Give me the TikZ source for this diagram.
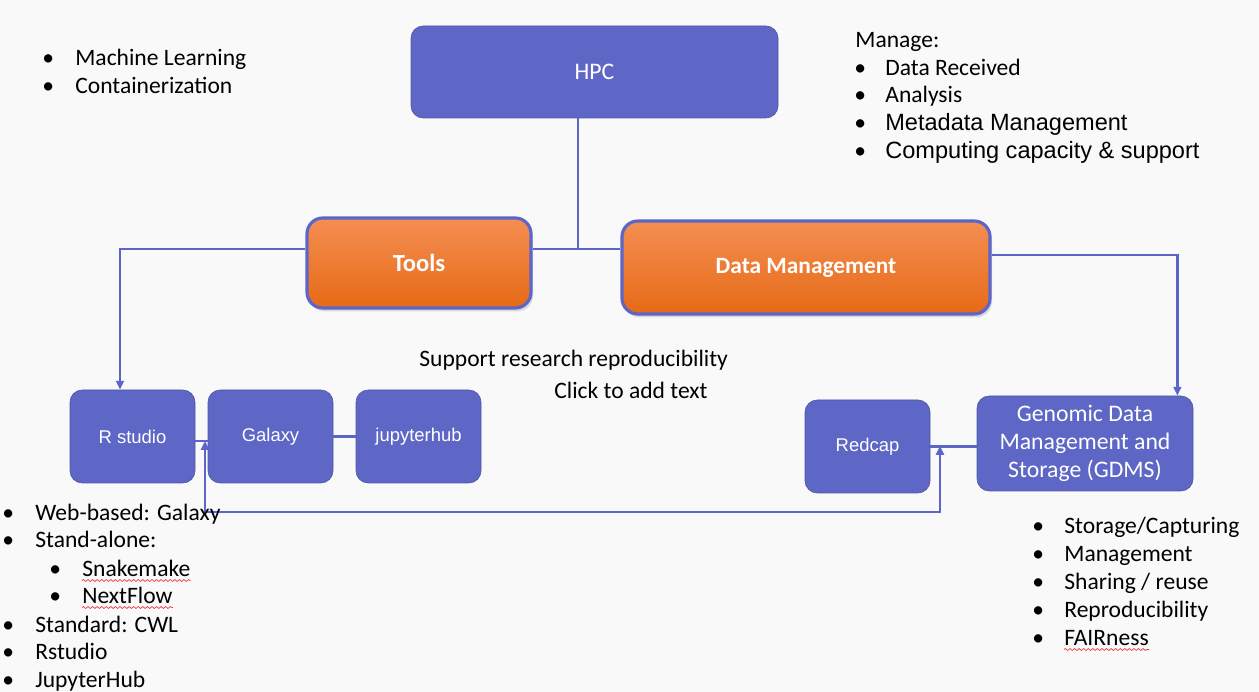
\documentclass[tikz,border=0pt]{standalone}
\usepackage{fontspec}
\setmainfont{Carlito}
\newfontfamily\arialfont{Liberation Sans}
\usetikzlibrary{arrows.meta,calc,shadows,positioning,decorations.pathmorphing}
\definecolor{boxblue}{RGB}{95,103,198}
\definecolor{lineblue}{RGB}{92,102,200}
\definecolor{orgtop}{RGB}{244,142,82}
\definecolor{orgmid}{RGB}{250,122,22}
\definecolor{orgbot}{RGB}{230,106,22}
\definecolor{bgcol}{RGB}{249,249,249}
\definecolor{spellred}{RGB}{235,60,60}

\begin{document}
\begin{tikzpicture}[>={Triangle[width=4.5pt,length=5pt]}]
   \tikzset{
    blubox/.style={rectangle,rounded corners=7pt,fill=boxblue,draw=boxblue!85!black,thin,
                   text=white,minimum width=2.5cm,minimum height=1.86cm,font=\arialfont\fontsize{10.5}{12}\selectfont},
    orgbox/.style={rectangle,rounded corners=9pt,top color=orgtop,middle color=orgmid,bottom color=orgbot,
                   draw=lineblue,line width=1.8pt,text=white,font=\fontsize{14}{16}\selectfont\bfseries,
                   drop shadow={opacity=0.25,shadow xshift=0.04,shadow yshift=-0.07}},
    link/.style={draw=lineblue,line width=1.5pt},
    item/.style={anchor=base west,inner sep=0pt,font=\fontsize{13.4}{16}\selectfont},
    bigitem/.style={anchor=base west,inner sep=0pt,font=\arialfont\fontsize{13.4}{16}\selectfont},
    bul/.style={anchor=base west,inner sep=0pt,font=\fontsize{13.4}{16}\selectfont},
    squiggle/.style={draw=spellred,line width=0.4pt,decorate,decoration={snake,amplitude=0.55pt,segment length=2.6pt}}
   }
   % background
   \fill[bgcol] (0,0) rectangle (25.18,-13.84);
   \useasboundingbox (0,0) rectangle (25.18,-13.84);

   % boxes
   \node[blubox,minimum width=7.34cm,minimum height=1.84cm,font=\fontsize{13.5}{15}\selectfont] (hpc) at (11.89,-1.44) {HPC};
   \node[orgbox,minimum width=4.48cm,minimum height=1.80cm] (tools) at (8.38,-5.26) {Tools};
   \node[orgbox,minimum width=7.36cm,minimum height=1.86cm,font=\fontsize{13.3}{15}\selectfont\bfseries] (dm) at (16.12,-5.35) {Data Management};
   \node[blubox] (rstudio) at (2.65,-8.73) {R studio};
   \node[blubox] (galaxy) at (5.41,-8.73) {Galaxy};
   \node[blubox] (jupyter) at (8.37,-8.73) {jupyterhub};
   \node[blubox] (redcap) at (17.35,-8.93) {Redcap};
   \node[blubox,minimum width=4.32cm,minimum height=1.90cm,align=center,
         font=\fontsize{13.5}{16}\selectfont] (gdms) at (21.70,-8.87)
         {Genomic Data\\Management and\\Storage (GDMS)};

   % connectors
   \coordinate (hub) at (11.56,-4.98);
   \coordinate (lp1) at (4.10,-8.82);
   \coordinate (lp2) at (18.80,-8.92);
   \begin{scope}[link]
    \draw (hub |- hpc.south) -- (hub);
    \draw (tools.east |- hub) -- (dm.west |- hub);
    \draw[->] (tools.west |- hub) -| ($(rstudio.north)+(-0.25,0)$);
    \draw[->] ($(dm.east)+(0,0.25)$) -| ($(gdms.north east)+(-0.32,0)$);
    \draw (rstudio.east |- lp1) -- (galaxy.west |- lp1);
    \draw (galaxy) -- (jupyter);
    \draw (redcap.east) -- (gdms.west |- redcap.east);
    \draw[<->] (lp1) -- (lp1 |- 0,-10.24) -| (lp2);
   \end{scope}

   % centre texts
   \node[item] (supp) at (8.38,-7.34) {Support research reproducibility};
   \node[item] (click) at (11.08,-7.98) {Click to add text};

   % top left list
   \foreach \txt [count=\i] in {Machine Learning,Containerization} {
    \node[bul] (tlb\i) at (0.84,{-1.32-0.56*(\i-1)}) {•};
    \node[item] (tl\i) at (1.50,{-1.32-0.56*(\i-1)}) {\txt};
   }

   % top right list
   \node[item] (manage) at (17.10,-0.96) {Manage:};
   \foreach \txt [count=\i] in {Data Received,Analysis} {
    \node[bul] (trb\i) at (17.08,{-1.51-0.55*(\i-1)}) {•};
    \node[item] (tr\i) at (17.70,{-1.51-0.55*(\i-1)}) {\txt};
   }
   \node[bul] (trb3) at (17.08,-2.62) {•};
   \node[bigitem] (tr3) at (17.70,-2.62) {Metadata Management};
   \node[bul] (trb4) at (17.08,-3.18) {•};
   \node[bigitem] (tr4) at (17.70,-3.18) {Computing capacity \& support};

   % bottom left list
   \node[bul] (blb1) at (0.04,-10.40) {•};
   \node[item] (bl1) at (0.70,-10.40) {Web-based: Galaxy};
   \node[bul] (blb2) at (0.04,-10.94) {•};
   \node[item] (bl2) at (0.70,-10.94) {Stand-alone:};
   \node[bul] (blb3) at (0.98,-11.52) {•};
   \node[item] (bl3) at (1.64,-11.52) {Snakemake};
   \node[bul] (blb4) at (0.98,-12.06) {•};
   \node[item] (bl4) at (1.64,-12.06) {NextFlow};
   \foreach \txt [count=\i from 5] in {Standard: CWL,Rstudio,JupyterHub} {
    \node[bul] (blb\i) at (0.04,{-12.64-0.55*(\i-5)}) {•};
    \node[item] (bl\i) at (0.70,{-12.64-0.55*(\i-5)}) {\txt};
   }

   % bottom right list
   \foreach \txt [count=\i] in {Storage/Capturing,Management,Sharing / reuse,Reproducibility,FAIRness} {
    \node[bul] (brb\i) at (20.64,{-10.66-0.56*(\i-1)}) {•};
    \node[item] (br\i) at (21.28,{-10.66-0.56*(\i-1)}) {\txt};
   }

   % spell-check marks
   \draw[squiggle] ($(bl3.base west)+(0,-0.09)$) -- ($(bl3.base east)+(0,-0.09)$);
   \draw[squiggle] ($(bl4.base west)+(0,-0.09)$) -- ($(bl4.base east)+(0,-0.09)$);
   \draw[squiggle] ($(br5.base west)+(0,-0.09)$) -- ($(br5.base east)+(0,-0.09)$);
\end{tikzpicture}
\end{document}
